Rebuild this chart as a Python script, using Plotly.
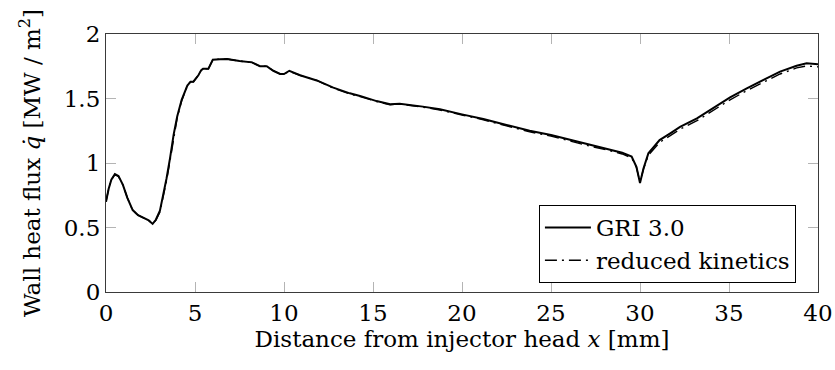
import plotly.graph_objects as go

# Distance from injector head [mm]
x_gri = [0.0, 0.15, 0.3, 0.5, 0.7, 0.95, 1.2, 1.5, 1.8, 2.1, 2.4, 2.62, 2.8, 3.03, 3.2, 3.4,
         3.6, 3.8, 4.0, 4.25, 4.57, 4.75, 4.91, 5.05, 5.19, 5.35, 5.45, 5.75, 5.9, 6.0,
         6.4, 6.8, 7.5, 8.2, 8.65, 9.03, 9.4, 9.78, 10.0, 10.3, 10.9, 11.84, 12.77, 13.7,
         14.27, 15.2, 15.96, 16.5, 17.8, 18.76, 20.0, 21.2, 22.5, 23.8, 25.0, 26.25, 27.2,
         28.3, 29.0, 29.53, 29.8, 30.0, 30.2, 30.47, 31.1, 31.7, 32.25, 33.2, 34.1, 35.06,
         36.0, 36.9, 37.87, 38.8, 39.36, 40.0]
# GRI 3.0 wall heat flux [MW/m^2]
q_gri = [0.70, 0.80, 0.87, 0.915, 0.90, 0.83, 0.73, 0.635, 0.595, 0.575, 0.555, 0.528, 0.56,
         0.63, 0.74, 0.88, 1.04, 1.22, 1.36, 1.49, 1.60, 1.63, 1.63, 1.655, 1.68, 1.72, 1.73,
         1.73, 1.77, 1.80, 1.805, 1.806, 1.79, 1.78, 1.75, 1.75, 1.715, 1.69, 1.69, 1.715,
         1.68, 1.64, 1.584, 1.54, 1.52, 1.48, 1.455, 1.46, 1.437, 1.416, 1.377, 1.341, 1.295,
         1.25, 1.217, 1.173, 1.14, 1.106, 1.08, 1.05, 0.97, 0.845, 0.96, 1.075, 1.178, 1.23,
         1.28, 1.346, 1.424, 1.509, 1.579, 1.643, 1.708, 1.754, 1.773, 1.765]
# reduced kinetics
x_red = x_gri
q_red = [0.70, 0.80, 0.87, 0.91, 0.895, 0.83, 0.73, 0.635, 0.595, 0.575, 0.555, 0.53, 0.555,
         0.62, 0.72, 0.86, 1.02, 1.20, 1.35, 1.48, 1.60, 1.63, 1.63, 1.655, 1.68, 1.72, 1.73,
         1.73, 1.77, 1.80, 1.805, 1.806, 1.79, 1.78, 1.75, 1.75, 1.715, 1.69, 1.69, 1.71,
         1.68, 1.64, 1.58, 1.535, 1.515, 1.477, 1.452, 1.457, 1.433, 1.411, 1.372, 1.335, 1.288,
         1.242, 1.208, 1.163, 1.13, 1.096, 1.07, 1.04, 0.965, 0.85, 0.955, 1.06, 1.16, 1.212,
         1.262, 1.328, 1.405, 1.49, 1.561, 1.626, 1.69, 1.737, 1.752, 1.745]

x_ticks = [0, 5, 10, 15, 20, 25, 30, 35, 40]
y_ticks = [0, 0.5, 1, 1.5, 2]
y_ticklabels = ["0", "0.5", "1", "1.5", "2"]

FONT = "'DejaVu Serif', serif"
FS = 23

fig = go.Figure()
fig.add_trace(go.Scatter(x=x_gri, y=q_gri, mode="lines", name="GRI 3.0",
                         line=dict(color="black", width=2)))
fig.add_trace(go.Scatter(x=x_red, y=q_red, mode="lines", name="reduced kinetics",
                         line=dict(color="black", width=1.4, dash="12px,5px,2px,5px")))

axis_common = dict(showgrid=False, zeroline=False, showline=True, linecolor="#3a3a3a",
                   linewidth=1.2, mirror="ticks", ticks="inside", ticklen=10,
                   tickcolor="#b4b4b4", tickwidth=1.2, automargin=False,
                   tickfont=dict(family=FONT, size=FS, color="black"))

fig.update_layout(
    template="none",
    width=835, height=370,
    margin=dict(l=106, r=17, t=34, b=78, autoexpand=False),
    paper_bgcolor="white", plot_bgcolor="white",
    font=dict(family=FONT, size=FS, color="black"),
    xaxis=dict(range=[0, 40], tickvals=x_ticks, ticktext=[str(v) for v in x_ticks],
               title=dict(text="Distance from injector head <i>x</i> [mm]",
                          font=dict(family=FONT, size=FS), standoff=4),
               **axis_common),
    yaxis=dict(range=[0, 2], tickvals=y_ticks, ticktext=y_ticklabels,
               title=dict(text="Wall heat flux <i>q̇</i> [MW / m<sup>2</sup>]",
                          font=dict(family=FONT, size=FS), standoff=16),
               **axis_common),
    legend=dict(x=0.969, y=0.035, xanchor="right", yanchor="bottom",
                bgcolor="white", bordercolor="black", borderwidth=1,
                font=dict(family=FONT, size=FS), tracegroupgap=0, itemwidth=46),
    showlegend=True,
)

fig.write_html("out.html")
